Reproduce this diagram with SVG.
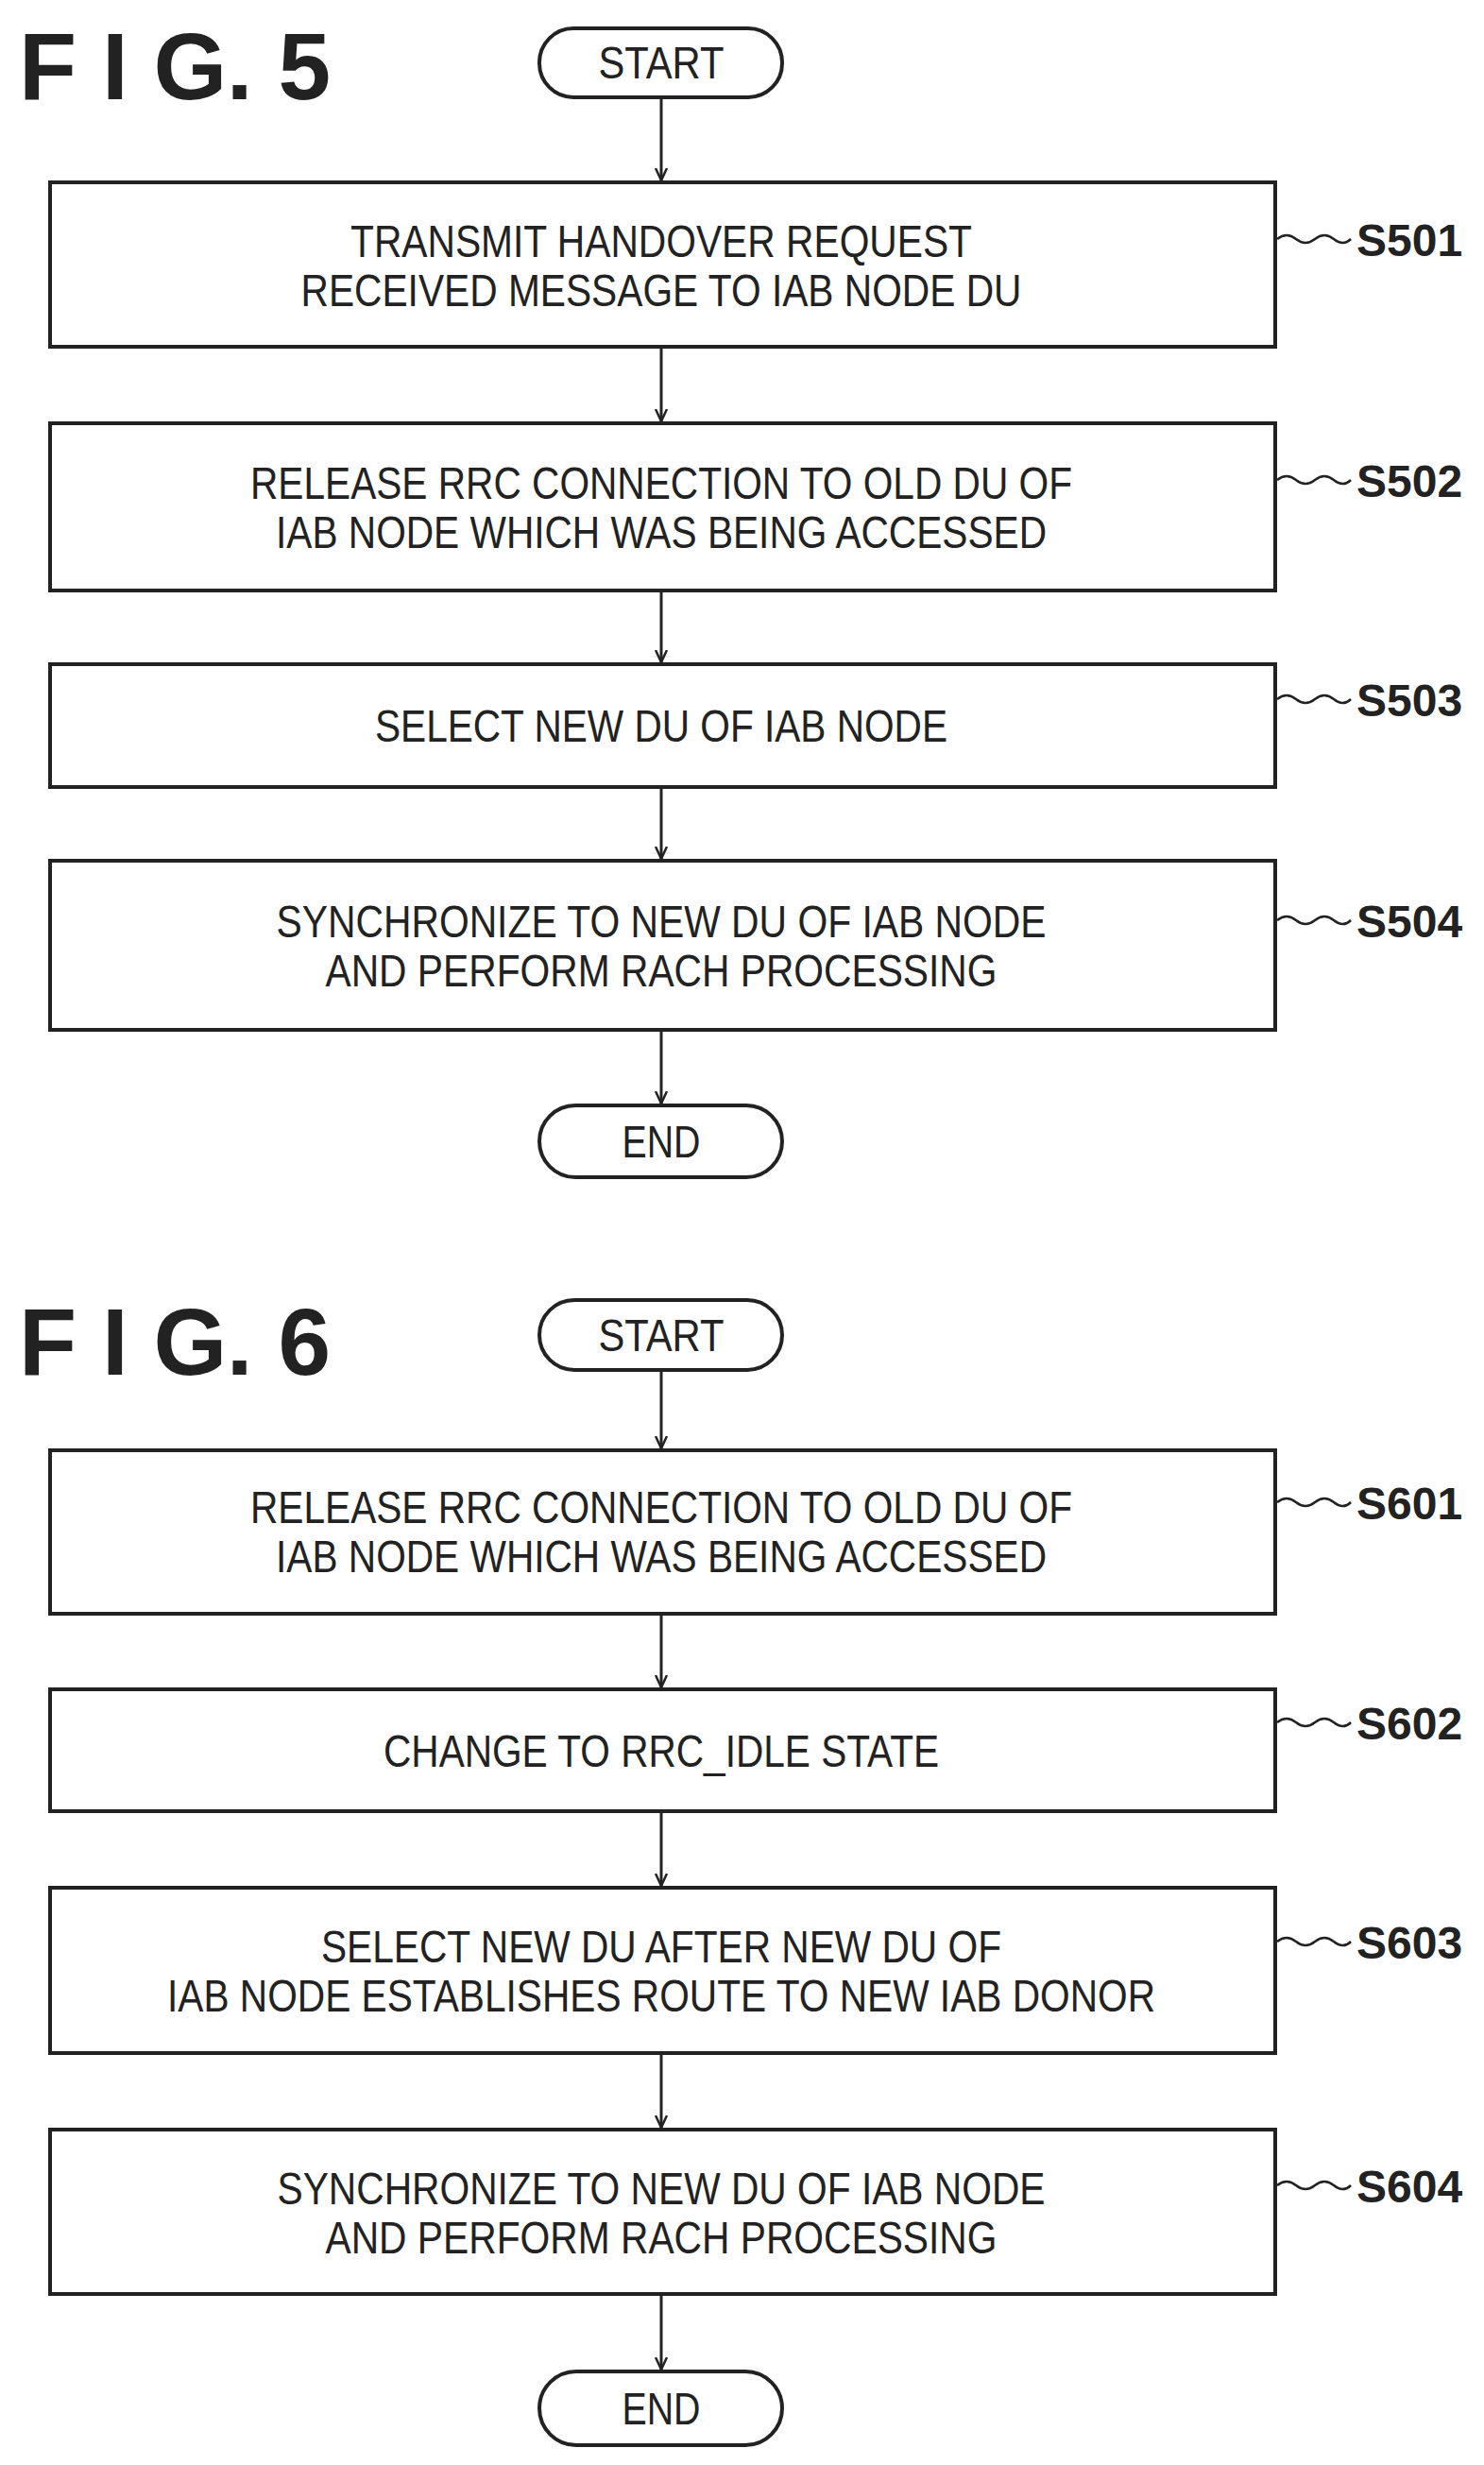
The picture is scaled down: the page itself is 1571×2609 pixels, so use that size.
<svg xmlns="http://www.w3.org/2000/svg" width="1571" height="2609" viewBox="0 0 1571 2609">
<style>
.b{fill:#fff;stroke:#222;stroke-width:4}
.t{font-family:"Liberation Sans",Arial,sans-serif;font-size:48px;fill:#222;text-anchor:middle}
.s{font-family:"Liberation Sans",Arial,sans-serif;font-size:48px;font-weight:bold;fill:#222}
.f{font-family:"Liberation Sans",Arial,sans-serif;font-size:100px;font-weight:bold;fill:#222}
.c{stroke:#222;stroke-width:3;fill:none}
.w{stroke:#222;stroke-width:2.5;fill:none}
</style>
<defs>
<marker id="a" markerWidth="14" markerHeight="14" refX="13" refY="7" orient="auto" markerUnits="userSpaceOnUse" viewBox="0 0 14 14">
<path d="M0,1 L13,7 L0,13" fill="none" stroke="#222" stroke-width="2.5"/>
</marker>
</defs>
<text class="f" x="20" y="105" textLength="330" lengthAdjust="spacing">F I G.  5</text>
<text class="f" x="20" y="1455" textLength="330" lengthAdjust="spacing">F I G.  6</text>
<g id="connectors">
<line class="c" x1="700" y1="103" x2="700" y2="191" marker-end="url(#a)"/>
<line class="c" x1="700" y1="367" x2="700" y2="446" marker-end="url(#a)"/>
<line class="c" x1="700" y1="625" x2="700" y2="701" marker-end="url(#a)"/>
<line class="c" x1="700" y1="833" x2="700" y2="909" marker-end="url(#a)"/>
<line class="c" x1="700" y1="1090" x2="700" y2="1168" marker-end="url(#a)"/>
<line class="c" x1="700" y1="1450" x2="700" y2="1533" marker-end="url(#a)"/>
<line class="c" x1="700" y1="1708" x2="700" y2="1786" marker-end="url(#a)"/>
<line class="c" x1="700" y1="1917" x2="700" y2="1996" marker-end="url(#a)"/>
<line class="c" x1="700" y1="2173" x2="700" y2="2252" marker-end="url(#a)"/>
<line class="c" x1="700" y1="2428" x2="700" y2="2508" marker-end="url(#a)"/>
</g>
<g id="start5"><rect class="b" x="571" y="30" width="257" height="73" rx="36"/><text class="t" x="700" y="83" textLength="133" lengthAdjust="spacingAndGlyphs">START</text></g>
<g id="s501"><rect class="b" x="53" y="193" width="1297" height="174"/>
<text class="t" x="700" y="272" textLength="658" lengthAdjust="spacingAndGlyphs">TRANSMIT HANDOVER REQUEST</text>
<text class="t" x="700" y="324" textLength="763" lengthAdjust="spacingAndGlyphs">RECEIVED MESSAGE TO IAB NODE DU</text>
<path class="w" d="M1352,253 q10,-8 20,0 t20,0 t20,0 t18,0"/><text class="s" x="1436" y="271">S501</text></g>
<g id="s502"><rect class="b" x="53" y="448" width="1297" height="177"/>
<text class="t" x="700" y="528" textLength="870" lengthAdjust="spacingAndGlyphs">RELEASE RRC CONNECTION TO OLD DU OF</text>
<text class="t" x="700" y="580" textLength="816" lengthAdjust="spacingAndGlyphs">IAB NODE WHICH WAS BEING ACCESSED</text>
<path class="w" d="M1352,508 q10,-8 20,0 t20,0 t20,0 t18,0"/><text class="s" x="1436" y="526">S502</text></g>
<g id="s503"><rect class="b" x="53" y="703" width="1297" height="130"/>
<text class="t" x="700" y="785" textLength="606" lengthAdjust="spacingAndGlyphs">SELECT NEW DU OF IAB NODE</text>
<path class="w" d="M1352,740 q10,-8 20,0 t20,0 t20,0 t18,0"/><text class="s" x="1436" y="758">S503</text></g>
<g id="s504"><rect class="b" x="53" y="911" width="1297" height="179"/>
<text class="t" x="700" y="992" textLength="815" lengthAdjust="spacingAndGlyphs">SYNCHRONIZE TO NEW DU OF IAB NODE</text>
<text class="t" x="700" y="1044" textLength="711" lengthAdjust="spacingAndGlyphs">AND PERFORM RACH PROCESSING</text>
<path class="w" d="M1352,974 q10,-8 20,0 t20,0 t20,0 t18,0"/><text class="s" x="1436" y="992">S504</text></g>
<g id="end5"><rect class="b" x="571" y="1170" width="257" height="76" rx="38"/><text class="t" x="700" y="1225" textLength="83" lengthAdjust="spacingAndGlyphs">END</text></g>
<g id="start6"><rect class="b" x="571" y="1376" width="257" height="74" rx="37"/><text class="t" x="700" y="1430" textLength="133" lengthAdjust="spacingAndGlyphs">START</text></g>
<g id="s601"><rect class="b" x="53" y="1535" width="1297" height="173"/>
<text class="t" x="700" y="1612" textLength="870" lengthAdjust="spacingAndGlyphs">RELEASE RRC CONNECTION TO OLD DU OF</text>
<text class="t" x="700" y="1664" textLength="816" lengthAdjust="spacingAndGlyphs">IAB NODE WHICH WAS BEING ACCESSED</text>
<path class="w" d="M1352,1590 q10,-8 20,0 t20,0 t20,0 t18,0"/><text class="s" x="1436" y="1608">S601</text></g>
<g id="s602"><rect class="b" x="53" y="1788" width="1297" height="129"/>
<text class="t" x="700" y="1870" textLength="588" lengthAdjust="spacingAndGlyphs">CHANGE TO RRC_IDLE STATE</text>
<path class="w" d="M1352,1823 q10,-8 20,0 t20,0 t20,0 t18,0"/><text class="s" x="1436" y="1841">S602</text></g>
<g id="s603"><rect class="b" x="53" y="1998" width="1297" height="175"/>
<text class="t" x="700" y="2077" textLength="720" lengthAdjust="spacingAndGlyphs">SELECT NEW DU AFTER NEW DU OF</text>
<text class="t" x="700" y="2129" textLength="1046" lengthAdjust="spacingAndGlyphs">IAB NODE ESTABLISHES ROUTE TO NEW IAB DONOR</text>
<path class="w" d="M1352,2055 q10,-8 20,0 t20,0 t20,0 t18,0"/><text class="s" x="1436" y="2073">S603</text></g>
<g id="s604"><rect class="b" x="53" y="2254" width="1297" height="174"/>
<text class="t" x="700" y="2333" textLength="813" lengthAdjust="spacingAndGlyphs">SYNCHRONIZE TO NEW DU OF IAB NODE</text>
<text class="t" x="700" y="2385" textLength="711" lengthAdjust="spacingAndGlyphs">AND PERFORM RACH PROCESSING</text>
<path class="w" d="M1352,2313 q10,-8 20,0 t20,0 t20,0 t18,0"/><text class="s" x="1436" y="2331">S604</text></g>
<g id="end6"><rect class="b" x="571" y="2510" width="257" height="78" rx="39"/><text class="t" x="700" y="2566" textLength="83" lengthAdjust="spacingAndGlyphs">END</text></g>
</svg>
